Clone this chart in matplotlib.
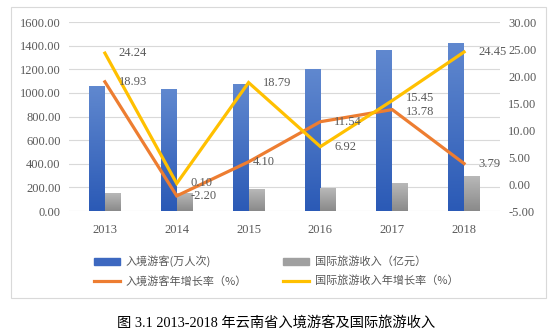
import numpy as np
import matplotlib
matplotlib.use("Agg")
from matplotlib import pyplot as plt
from matplotlib.colors import LinearSegmentedColormap
from matplotlib.patches import Patch, Rectangle
from matplotlib.lines import Line2D

years = ["2013", "2014", "2015", "2016", "2017", "2018"]
visitors = [1050, 1027, 1070, 1195, 1362, 1414]        # 入境游客(万人次)
revenue = [150, 150, 178, 190, 235, 290]               # 国际旅游收入(亿元)
visitor_growth = [18.93, -2.20, 4.10, 11.54, 13.78, 3.79]
revenue_growth = [24.24, 0.10, 18.79, 6.92, 15.45, 24.45]

serif = ["Liberation Serif", "Noto Sans CJK SC"]
cjk = ["Noto Sans CJK SC", "DejaVu Sans"]
grey_txt = "#595959"

fig = plt.figure(figsize=(5.54, 3.36), dpi=100)
ax = fig.add_axes([0.1245, 0.372, 0.778, 0.5625])
ax2 = ax.twinx()

# outer chart frame
fig.patches.append(Rectangle((11 / 554, 1 - 298 / 336), 535 / 554, 291 / 336,
                             transform=fig.transFigure, fill=False,
                             edgecolor="#d9d9d9", linewidth=0.8))


def gradient_bar(axis, xc, w, h, top, bottom):
    cmap = LinearSegmentedColormap.from_list("g", [bottom, top])
    grad = np.linspace(0, 1, 100).reshape(-1, 1)
    axis.imshow(grad, extent=[xc - w / 2, xc + w / 2, 0, h], origin="lower",
                aspect="auto", cmap=cmap, zorder=2)


x = np.arange(len(years))
bw = 0.22
for i in range(len(years)):
    gradient_bar(ax, x[i] - bw / 2, bw, visitors[i], "#6088cf", "#2b5ab6")
    gradient_bar(ax, x[i] + bw / 2, bw, revenue[i], "#b8b8b8", "#8a8a8a")

ax.set_xlim(-0.5, 5.5)
ax.set_ylim(0, 1600)
ax.set_yticks(np.arange(0, 1601, 200))
ax.set_yticklabels([f"{v:.2f}" for v in np.arange(0, 1601, 200)])
ax.set_xticks(x)
ax.set_xticklabels(years)
ax.grid(axis="y", color="#d9d9d9", linewidth=0.8, zorder=0)
ax.set_axisbelow(True)

ax2.plot(x, visitor_growth, color="#ED7D31", linewidth=2.3, zorder=3,
         solid_joinstyle="miter")
ax2.plot(x, revenue_growth, color="#FFC000", linewidth=2.3, zorder=3,
         solid_joinstyle="miter")
ax2.set_ylim(-5, 30)
ax2.set_yticks(np.arange(-5, 31, 5))
ax2.set_yticklabels([f"{v:.2f}" for v in np.arange(-5, 31, 5)])

# label offsets (points); 2015 orange sits close, 2017 pair is nudged apart
for i in range(len(years)):
    ox = 3 if i == 2 else 10
    oy = -1.5 if i == 4 else 0
    ax2.annotate(f"{visitor_growth[i]:.2f}", (x[i], visitor_growth[i]),
                 xytext=(ox, oy), textcoords="offset points", va="center",
                 ha="left", fontsize=9, family=serif, color=grey_txt, zorder=4)
    oy = 1.5 if i == 4 else 0
    ax2.annotate(f"{revenue_growth[i]:.2f}", (x[i], revenue_growth[i]),
                 xytext=(10, oy), textcoords="offset points", va="center",
                 ha="left", fontsize=9, family=serif, color=grey_txt, zorder=4)

for a in (ax, ax2):
    for s in a.spines.values():
        s.set_visible(False)
    a.tick_params(length=0, labelsize=9, labelcolor=grey_txt)
    for t in a.get_xticklabels() + a.get_yticklabels():
        t.set_family(serif)
ax.tick_params(axis="x", pad=9)
ax.tick_params(axis="y", pad=6)
ax2.tick_params(axis="y", pad=6)

handles = [Patch(color="#3d68c0"), Line2D([], [], color="#ED7D31", linewidth=2.3),
           Patch(color="#a0a0a0"), Line2D([], [], color="#FFC000", linewidth=2.3)]
labels = ["入境游客(万人次)", "入境游客年增长率（%）",
          "国际旅游收入（亿元）", "国际旅游收入年增长率（%）"]
fig.legend(handles, labels, ncol=2, loc="upper left",
           bbox_to_anchor=(88 / 554, 1 - 250 / 336), frameon=False,
           prop={"family": cjk, "size": 8}, labelcolor=grey_txt,
           handlelength=2.4, handleheight=0.6, handletextpad=0.5,
           columnspacing=3.2, labelspacing=0.75, borderpad=0)

fig.text(276 / 554, 1 - 323 / 336, "图 3.1 2013-2018 年云南省入境游客及国际旅游收入",
         ha="center", va="center", fontsize=10.3, family=serif, color="black")

fig.savefig("out.png", dpi=100)
